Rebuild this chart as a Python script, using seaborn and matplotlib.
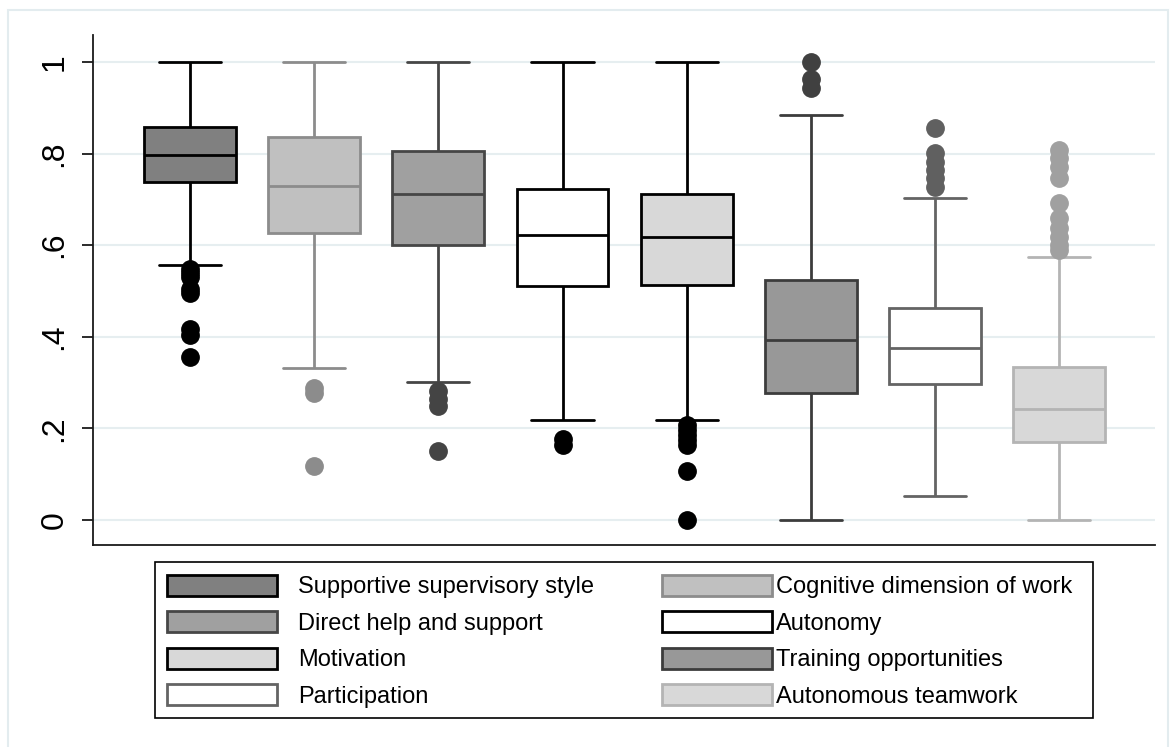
import matplotlib
matplotlib.use("Agg")
import matplotlib.pyplot as plt
import matplotlib.patches as mpatches
import seaborn as sns
import pandas as pd

categories = ["Supportive supervisory style", "Cognitive dimension of work",
              "Direct help and support", "Autonomy", "Motivation",
              "Training opportunities", "Participation", "Autonomous teamwork"]
whisker_low = [0.556, 0.332, 0.302, 0.218, 0.218, 0.0, 0.052, 0.0]
q1 = [0.737, 0.626, 0.600, 0.512, 0.514, 0.277, 0.298, 0.170]
median = [0.796, 0.730, 0.711, 0.623, 0.618, 0.392, 0.376, 0.242]
q3 = [0.858, 0.836, 0.805, 0.722, 0.712, 0.523, 0.463, 0.333]
whisker_high = [1.0, 1.0, 1.0, 1.0, 1.0, 0.885, 0.704, 0.574]
outliers = [
    [0.549, 0.540, 0.530, 0.505, 0.495, 0.416, 0.405, 0.356],
    [0.289, 0.277, 0.117],
    [0.281, 0.265, 0.250, 0.150],
    [0.176, 0.164],
    [0.207, 0.196, 0.186, 0.175, 0.164, 0.107, 0.0],
    [1.0, 0.963, 0.944],
    [0.856, 0.801, 0.782, 0.764, 0.747, 0.727],
    [0.808, 0.790, 0.771, 0.747, 0.692, 0.659, 0.637, 0.618, 0.600, 0.590],
]
tick_values = [0, 0.2, 0.4, 0.6, 0.8, 1.0]
tick_labels = ["0", ".2", ".4", ".6", ".8", "1"]

fill_colors = ["#808080", "#c0c0c0", "#a0a0a0", "#ffffff",
               "#d8d8d8", "#989898", "#ffffff", "#d8d8d8"]
edge_colors = ["#000000", "#8c8c8c", "#464646", "#000000",
               "#000000", "#3c3c3c", "#646464", "#b4b4b4"]
flier_colors = ["#000000", "#8c8c8c", "#444444", "#000000",
                "#000000", "#404040", "#606060", "#a0a0a0"]

# Build a sample table whose box-plot statistics equal the values read above
REP = 30
rows = []
for i, cat in enumerate(categories):
    vals = ([whisker_low[i]] + [q1[i]] * REP + [median[i]] * REP +
            [q3[i]] * REP + [whisker_high[i]] + outliers[i])
    rows += [(cat, v) for v in vals]
df = pd.DataFrame(rows, columns=["item", "value"])

sns.set_style("white")
plt.rcParams["font.family"] = ["Liberation Sans", "DejaVu Sans"]
plt.rcParams["text.color"] = "black"
plt.rcParams["ytick.color"] = "black"

W, H = 1170, 747
fig = plt.figure(figsize=(11.7, 7.47), dpi=100)
ax = fig.add_axes([93 / W, 1 - 545 / H, (1155 - 93) / W, (545 - 35) / H])

for i, cat in enumerate(categories):
    sns.boxplot(data=df[df["item"] == cat], x="item", y="value", order=categories,
                color=fill_colors[i], linecolor=edge_colors[i], saturation=1,
                width=0.74, linewidth=2, whis=1.5, capwidths=0.5,
                flierprops=dict(marker="o", markerfacecolor=flier_colors[i],
                                markeredgecolor=flier_colors[i], markersize=12.5),
                ax=ax)

ax.set_xlim(-0.78, 7.77)
ax.set_ylim(-0.0546, 1.059)
ax.set_xticks([])
ax.set_xlabel("")
ax.set_ylabel("")
ax.set_yticks(tick_values)
ax.set_yticklabels(tick_labels, fontsize=23, color="black")
ax.tick_params(axis="y", labelrotation=90, length=8, width=1.3, color="#1a1a1a",
               pad=9, left=True)
for lab in ax.get_yticklabels():
    lab.set_va("center")
ax.yaxis.grid(True, color="#e6eef0", linewidth=1.5)
ax.set_axisbelow(True)
for s in ["top", "right"]:
    ax.spines[s].set_visible(False)
for s in ["left", "bottom"]:
    ax.spines[s].set_color("#1a1a1a")
    ax.spines[s].set_linewidth(1.3)

# Light outer frame
fig.add_artist(mpatches.Rectangle((8 / W, -0.01), 1160 / W, (737 / H) + 0.01,
                                  transform=fig.transFigure, fill=False,
                                  edgecolor="#e3ecef", linewidth=1.5))

# Legend frame
fig.add_artist(mpatches.Rectangle((155 / W, 1 - 718 / H), (1093 - 155) / W,
                                  (718 - 562) / H, transform=fig.transFigure,
                                  facecolor="white", edgecolor="black",
                                  linewidth=1.2, zorder=4))

# Legend: two columns, row-major order of the boxes
leg_kw = dict(loc="upper left", borderaxespad=0, frameon=False, fontsize=17,
              handlelength=4.65, handleheight=0.98, labelspacing=0.55,
              borderpad=0.5, labelcolor="black")
col_items = [[0, 2, 4, 6], [1, 3, 5, 7]]
col_x = [155, 650]
col_pad = [0.9, 0.17]
for c in range(2):
    idx = col_items[c]
    handles = [mpatches.Patch(facecolor=fill_colors[i], edgecolor=edge_colors[i],
                              linewidth=2) for i in idx]
    labels = [categories[i] for i in idx]
    leg = fig.legend(handles, labels, bbox_to_anchor=(col_x[c] / W, 1 - 563 / H),
                     handletextpad=col_pad[c], **leg_kw)
    leg.set_zorder(5)

fig.savefig("out.png", dpi=100, facecolor="white")
